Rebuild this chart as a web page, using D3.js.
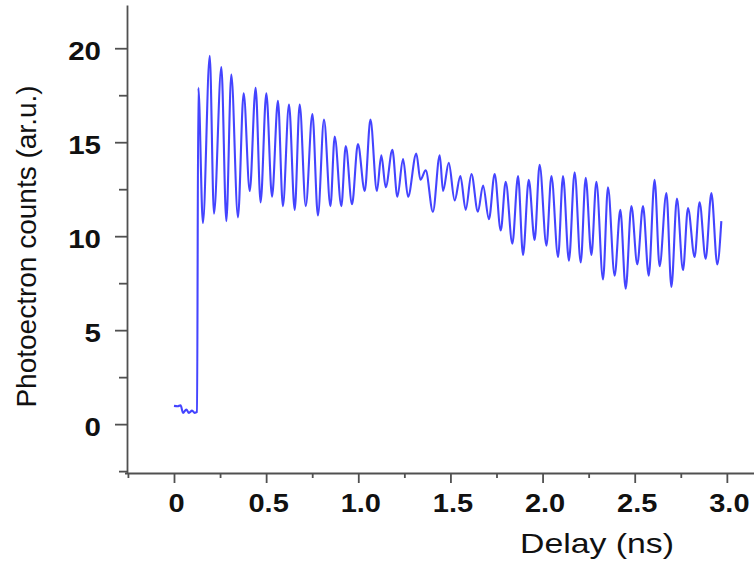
<!DOCTYPE html>
<html>
<head>
<meta charset="utf-8">
<script src="https://cdn.jsdelivr.net/npm/d3@7"></script>
<style>
  body { margin: 0; background: #fff; }
  svg { display: block; }
  .axis path, .axis line { stroke: #505050; stroke-width: 1.8; }
  .axis text { font-family: "Liberation Sans", Arial, sans-serif; font-weight: bold; font-size: 25px; fill: #111; }
</style>
</head>
<body>
<div id="chart"></div>
<script>
// data: delay (ns) and photoelectron counts (ar.u.)
const delay = [
  0.000, 0.020, 0.036, 0.049, 0.067, 0.081, 0.098, 0.112, 0.125, 0.132,
  0.157, 0.194, 0.217, 0.257, 0.284, 0.311, 0.347, 0.378, 0.411, 0.443,
  0.470, 0.501, 0.532, 0.564, 0.591, 0.624, 0.655, 0.682, 0.715, 0.751,
  0.781, 0.814, 0.849, 0.872, 0.908, 0.932, 0.966, 0.998, 1.035, 1.066,
  1.101, 1.125, 1.149, 1.185, 1.212, 1.243, 1.270, 1.315, 1.337, 1.366,
  1.405, 1.442, 1.460, 1.491, 1.523, 1.554, 1.583, 1.614, 1.649, 1.677,
  1.709, 1.740, 1.773, 1.800, 1.836, 1.867, 1.894, 1.925, 1.957, 1.984,
  2.021, 2.048, 2.084, 2.111, 2.143, 2.174, 2.207, 2.234, 2.265, 2.292,
  2.328, 2.355, 2.391, 2.422, 2.451, 2.482, 2.514, 2.545, 2.576, 2.608,
  2.635, 2.672, 2.699, 2.729, 2.762, 2.789, 2.825, 2.852, 2.885, 2.916,
  2.948, 2.970
];
const counts = [
  0.97, 0.95, 1.00, 0.60, 0.78, 0.60, 0.72, 0.60, 0.65, 17.9,
  10.7, 19.6, 11.2, 19.0, 10.8, 18.6, 11.0, 17.6, 12.4, 17.9,
  11.8, 17.6, 12.1, 17.2, 11.6, 17.0, 11.4, 17.0, 11.6, 16.5,
  11.1, 16.2, 11.6, 15.3, 11.6, 14.8, 11.7, 14.9, 12.4, 16.2,
  12.4, 14.3, 12.6, 14.6, 12.1, 14.1, 12.1, 14.4, 13.0, 13.5,
  11.3, 14.3, 12.4, 13.9, 11.9, 13.2, 11.4, 13.3, 11.3, 12.7,
  10.9, 13.3, 10.3, 12.9, 9.6, 13.2, 9.0, 13.0, 9.8, 13.8,
  9.5, 13.2, 8.9, 13.2, 8.7, 13.4, 8.6, 13.1, 9.0, 12.9,
  7.7, 12.6, 7.9, 11.4, 7.2, 11.6, 8.5, 11.6, 7.9, 13.0,
  8.4, 12.3, 7.3, 12.0, 8.2, 11.5, 8.9, 11.8, 8.8, 12.3,
  8.5, 10.8
];
const xTicks = [0, 0.5, 1.0, 1.5, 2.0, 2.5, 3.0];
const xMinor = [-0.25, 0.25, 0.75, 1.25, 1.75, 2.25, 2.75];
const yTicks = [0, 5, 10, 15, 20];
const yMinor = [-2.5, 2.5, 7.5, 12.5, 17.5];

const width = 754, height = 564;
const svg = d3.select('#chart').append('svg')
  .attr('width', width)
  .attr('height', height);

const x = d3.scaleLinear().domain([-0.255, 3.15]).range([127, 754.5]);
const y = d3.scaleLinear().domain([-2.6, 22.3]).range([473, 5]);

// stretch tick labels horizontally like the original
function stretch(sel, k) {
  sel.each(function() {
    const w = this.getComputedTextLength();
    d3.select(this).attr('textLength', w * k).attr('lengthAdjust', 'spacingAndGlyphs');
  });
}

// minor ticks
svg.append('g').attr('class', 'axis')
  .attr('transform', 'translate(127,0)')
  .call(d3.axisLeft(y).tickValues(yMinor).tickSize(8).tickFormat(''))
  .call(g => g.select('.domain').remove());
svg.append('g').attr('class', 'axis')
  .attr('transform', 'translate(0,473)')
  .call(d3.axisBottom(x).tickValues(xMinor).tickSize(5).tickFormat(''))
  .call(g => g.select('.domain').remove());

// y axis
const yAxis = svg.append('g').attr('class', 'axis')
  .attr('transform', 'translate(127,0)')
  .call(d3.axisLeft(y).tickValues(yTicks).tickSize(12).tickSizeOuter(0).tickFormat(d3.format('d')));
yAxis.selectAll('text').attr('x', -26).attr('y', 11).attr('dy', null).call(stretch, 1.18);

// x axis
const xAxis = svg.append('g').attr('class', 'axis')
  .attr('transform', 'translate(0,473)')
  .call(d3.axisBottom(x).tickValues(xTicks).tickSize(10).tickSizeOuter(0)
    .tickFormat(d => d === 0 ? '0' : d.toFixed(1)));
xAxis.select('.domain').attr('d', 'M125,0.5H754.5');
xAxis.selectAll('text').attr('x', 2).attr('y', 38.5).attr('dy', null).call(stretch, 1.16);

// axis titles
svg.append('text')
  .attr('transform', 'translate(35.5,246.5) rotate(-90)')
  .attr('text-anchor', 'middle')
  .style('font-family', '"Liberation Sans", Arial, sans-serif')
  .style('font-size', '28px')
  .attr('fill', '#111')
  .text('Photoectron counts (ar.u.)');

svg.append('text')
  .attr('x', 520)
  .attr('y', 553)
  .attr('textLength', 154)
  .attr('lengthAdjust', 'spacingAndGlyphs')
  .style('font-family', '"Liberation Sans", Arial, sans-serif')
  .style('font-size', '28px')
  .attr('fill', '#111')
  .text('Delay (ns)');

// trace
const line = d3.line()
  .x((d, i) => x(delay[i]))
  .y(d => y(d))
  .curve(d3.curveMonotoneX);

svg.append('path')
  .datum(counts)
  .attr('fill', 'none')
  .attr('stroke', '#3030ff')
  .attr('stroke-opacity', 0.9)
  .attr('stroke-width', 2.1)
  .attr('stroke-linejoin', 'round')
  .attr('d', line);
</script>
</body>
</html>
